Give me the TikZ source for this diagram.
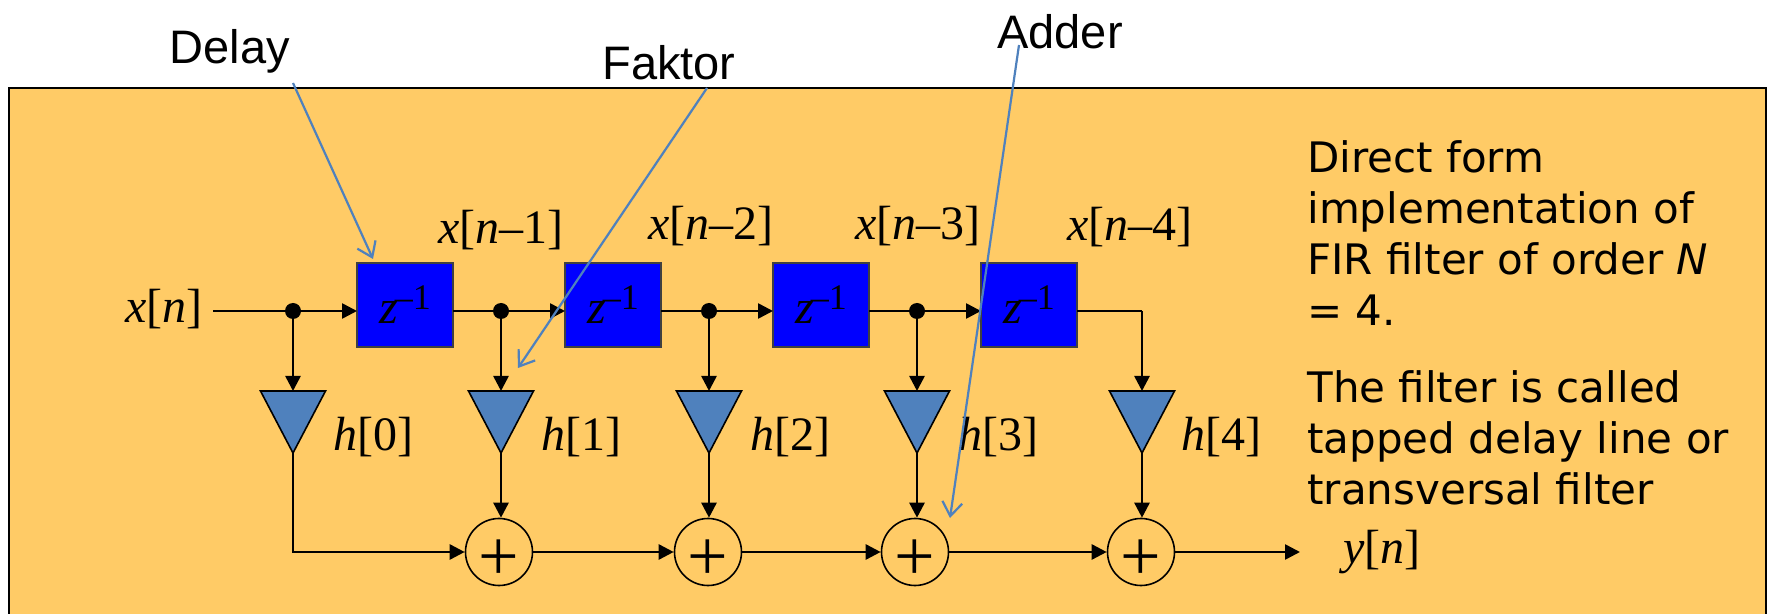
\documentclass[tikz,border=0pt]{standalone}
\usepackage{fontspec}
\setmainfont{Liberation Serif}
\newfontfamily\arialfont{Liberation Sans}
\newfontfamily\verdfont{DejaVu Sans}
\usepackage{xcolor}
\usetikzlibrary{arrows.meta, shapes.geometric}
\definecolor{panelfill}{HTML}{FFCB66}
\definecolor{trifill}{HTML}{4F81BD}
\newcommand{\sigx}[1]{\textit{x}[\textit{n}–#1]}
\newcommand{\coef}[1]{\textit{h}[#1]}
\newcommand{\zinv}{\textit{z}\kern-1.5pt\raisebox{7pt}{\fontsize{18}{18}\selectfont –1}}
\newcommand{\plusmark}{\raisebox{-4pt}[\height][\depth]{+}}

\begin{document}
\begin{tikzpicture}[
    x=0.5pt, y=-0.5pt,
    sig/.style={inner sep=0pt, font=\fontsize{24}{28}\selectfont},
    callout/.style={inner sep=0pt, font=\arialfont\fontsize{23.5}{28}\selectfont},
    para/.style={inner sep=0pt, anchor=north west, align=left, font=\verdfont\fontsize{21}{25.5}\selectfont},
    delaybox/.style={draw=black!75, line width=0.8pt, fill=blue, minimum width=48pt, minimum height=42pt, inner sep=0pt, font=\fontsize{24}{28}\selectfont},
    tap/.style={circle, fill=black, inner sep=0pt, minimum size=8pt},
    gain/.style={draw=black, line width=0.8pt, fill=trifill, isosceles triangle, isosceles triangle stretches, shape border rotate=-90, anchor=apex, minimum width=32.5pt, minimum height=31pt, inner sep=0pt, outer sep=0pt},
    adder/.style={draw=black, line width=0.8pt, circle, minimum size=33.5pt, inner sep=0pt, font=\fontsize{36}{36}\selectfont},
    arrow/.style={-{Triangle[length=7.5pt, width=7.5pt]}, line width=1.3pt},
    wire/.style={line width=1.3pt},
    pointer/.style={-{Straight Barb[length=7pt, width=10pt]}, line width=1.1pt, draw=trifill}
]
\useasboundingbox (0,0) rectangle (1767,614);
\fill[panelfill] (9,88) rectangle (1766,614);
\draw[line width=1.2pt] (9,614) -- (9,88) -- (1766,88) -- (1766,614);

\node[sig] (xn) at (164,309) {\textit{x}[\textit{n}]};
\coordinate (xstart) at (213,311);
\node[tap] (tap0) at (293,311) {};
\node[tap] (tap1) at (501,311) {};
\node[tap] (tap2) at (709,311) {};
\node[tap] (tap3) at (917,311) {};

\node[delaybox] (z1) at (405,305) {\zinv};
\node[delaybox] (z2) at (613,305) {\zinv};
\node[delaybox] (z3) at (821,305) {\zinv};
\node[delaybox] (z4) at (1029,305) {\zinv};
\coordinate (zin1) at (357,311);
\coordinate (zout1) at (453,311);
\coordinate (zin2) at (565,311);
\coordinate (zout2) at (661,311);
\coordinate (zin3) at (773,311);
\coordinate (zout3) at (869,311);
\coordinate (zin4) at (981,311);
\coordinate (zout4) at (1077,311);
\coordinate (corner) at (1142,311);

\node[sig] (x1) at (501,230) {\sigx{1}};
\node[sig] (x2) at (711,226) {\sigx{2}};
\node[sig] (x3) at (918,226) {\sigx{3}};
\node[sig] (x4) at (1130,227) {\sigx{4}};

\node[gain] (g0) at (293,453) {};
\node[gain] (g1) at (501,453) {};
\node[gain] (g2) at (709,453) {};
\node[gain] (g3) at (917,453) {};
\node[gain] (g4) at (1142,453) {};

\node[sig] (h0) at (373,437) {\coef{0}};
\node[sig] (h1) at (581,437) {\coef{1}};
\node[sig] (h2) at (790,437) {\coef{2}};
\node[sig] (h3) at (998,437) {\coef{3}};
\node[sig] (h4) at (1221,437) {\coef{4}};

\node[adder] (a1) at (499,552) {\plusmark};
\node[adder] (a2) at (708,552) {\plusmark};
\node[adder] (a3) at (915,552) {\plusmark};
\node[adder] (a4) at (1141,552) {\plusmark};
\coordinate (yend) at (1300,552);
\node[sig] (yn) at (1382,552) {\textit{y}[\textit{n}]};

\draw[wire] (xstart) -- (tap0);
\draw[arrow] (tap0) -- (zin1);
\draw[wire] (zout1) -- (tap1);
\draw[arrow] (tap1) -- (zin2);
\draw[wire] (zout2) -- (tap2);
\draw[arrow] (tap2) -- (zin3);
\draw[wire] (zout3) -- (tap3);
\draw[arrow] (tap3) -- (zin4);
\draw[wire] (zout4) -- (corner);

\draw[arrow] (tap0) -- (g0.lower side);
\draw[arrow] (tap1) -- (g1.lower side);
\draw[arrow] (tap2) -- (g2.lower side);
\draw[arrow] (tap3) -- (g3.lower side);
\draw[arrow] (corner) -- (g4.lower side);

\draw[arrow] (g0.apex) |- (a1.west);
\draw[arrow] (g1.apex) -- (g1.apex |- a1.north);
\draw[arrow] (g2.apex) -- (g2.apex |- a2.north);
\draw[arrow] (g3.apex) -- (g3.apex |- a3.north);
\draw[arrow] (g4.apex) -- (g4.apex |- a4.north);

\draw[arrow] (a1) ++(33.5,0) -- (a2.west);
\draw[arrow] (a2) ++(33.5,0) -- (a3.west);
\draw[arrow] (a3) ++(33.5,0) -- (a4.west);
\draw[arrow] (a4) ++(33.5,0) -- (yend);

\node[para] (txt1) at (1307,140) {Direct form\\implementation of\\FIR filter of order \textit{N}\\= 4.};
\node[para] (txt2) at (1307,370) {The filter is called\\tapped delay line or\\transversal filter};

\node[callout] (delay) at (230,51) {Delay};
\node[callout] (faktor) at (669,63) {Faktor};
\node[callout] (adderlbl) at (1060,32) {Adder};
\coordinate (delayfrom) at (293,83);
\coordinate (delayto) at (373,259);
\coordinate (faktorfrom) at (707,88);
\coordinate (faktorto) at (518,368);
\coordinate (adderfrom) at (1019,45);
\coordinate (adderto) at (950,518);
\draw[pointer] (delayfrom) -- (delayto);
\draw[pointer] (faktorfrom) -- (faktorto);
\draw[pointer] (adderfrom) -- (adderto);

\end{tikzpicture}
\end{document}
